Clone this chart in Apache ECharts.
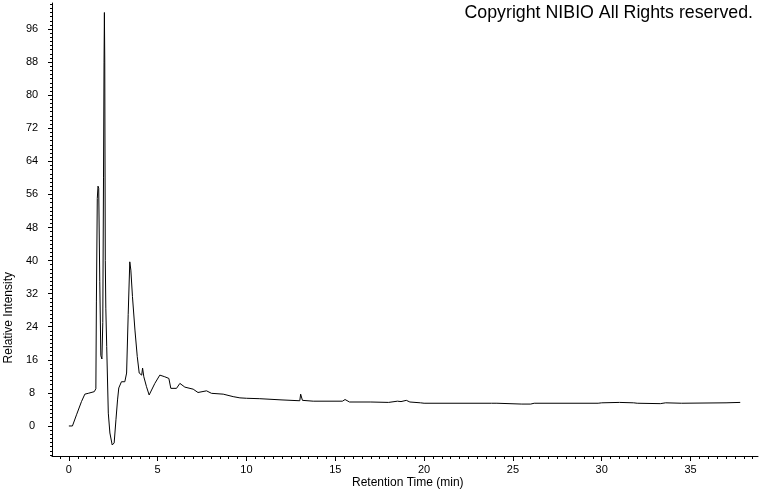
<!DOCTYPE html>
<html>
<head>
<meta charset="utf-8">
<script src="https://cdn.jsdelivr.net/npm/echarts@6/dist/echarts.min.js"></script>
<style>html,body{margin:0;padding:0;background:#fff}#c{width:760px;height:492px}</style>
</head>
<body>
<div id="c"></div>
<script>
// Retention time (min)
const times = [0, 0.2, 0.43, 0.71, 0.9, 1.09, 1.43, 1.52, 1.55, 1.6, 1.64, 1.68, 1.74, 1.8, 1.86, 1.91, 1.95, 1.98, 2.0, 2.02, 2.05, 2.08, 2.13, 2.22, 2.31, 2.44, 2.55, 2.65, 2.74, 2.81, 2.96, 3.15, 3.25, 3.34, 3.43, 3.49, 3.58, 3.72, 3.85, 3.96, 4.1, 4.15, 4.22, 4.37, 4.52, 4.84, 5.12, 5.4, 5.63, 5.74, 6.06, 6.25, 6.53, 7.0, 7.27, 7.75, 8.03, 8.69, 9.25, 9.63, 10.0, 10.75, 12.0, 13.0, 13.05, 13.15, 13.76, 15.4, 15.55, 15.8, 17.0, 18.0, 18.5, 18.7, 19.0, 19.2, 19.8, 20.0, 23.8, 23.9, 24.1, 25.5, 26.0, 26.2, 29.8, 30.0, 31.0, 31.8, 32.0, 33.3, 33.6, 34.5, 37.0, 37.8];
// Relative intensity
const intensity = [0, 0, 2.7, 5.9, 7.7, 7.9, 8.3, 9, 30, 55, 58, 57.5, 35, 17, 16.2, 25, 60, 88, 100, 88.5, 40, 28.5, 19.2, 3.1, -1.7, -4.6, -4.1, 1.5, 6.3, 9.2, 10.7, 10.7, 12.8, 27, 39.7, 37.7, 31.3, 23.2, 16.8, 12.8, 12.3, 14, 11.9, 9.5, 7.5, 10.3, 12.3, 11.9, 11.5, 9.1, 9.1, 10.3, 9.4, 8.9, 8.1, 8.5, 7.9, 7.7, 7.1, 6.8, 6.7, 6.6, 6.3, 6.1, 7.7, 6.2, 6.0, 6.0, 6.4, 5.8, 5.8, 5.7, 6.0, 5.9, 6.2, 5.8, 5.6, 5.5, 5.5, 5.3, 5.5, 5.3, 5.3, 5.5, 5.5, 5.6, 5.7, 5.6, 5.5, 5.4, 5.6, 5.5, 5.6, 5.7];

const xMajor = [0, 5, 10, 15, 20, 25, 30, 35];
const xMinor = [-0.5, 0.5, 1, 1.5, 2, 2.5, 3, 3.5, 4, 4.5, 5.5, 6, 6.5, 7, 7.5, 8, 8.5, 9, 9.5, 10.5, 11, 11.5, 12, 12.5, 13, 13.5, 14, 14.5, 15.5, 16, 16.5, 17, 17.5, 18, 18.5, 19, 19.5, 20.5, 21, 21.5, 22, 22.5, 23, 23.5, 24, 24.5, 25.5, 26, 26.5, 27, 27.5, 28, 28.5, 29, 29.5, 30.5, 31, 31.5, 32, 32.5, 33, 33.5, 34, 34.5, 35.5, 36, 36.5, 37, 37.5, 38, 38.5];
const yMajor = [0, 8, 16, 24, 32, 40, 48, 56, 64, 72, 80, 88, 96];
const yMinor = [-7, -6, -5, -4, -3, -2, -1, 1, 2, 3, 4, 5, 6, 7, 9, 10, 11, 12, 13, 14, 15, 17, 18, 19, 20, 21, 22, 23, 25, 26, 27, 28, 29, 30, 31, 33, 34, 35, 36, 37, 38, 39, 41, 42, 43, 44, 45, 46, 47, 49, 50, 51, 52, 53, 54, 55, 57, 58, 59, 60, 61, 62, 63, 65, 66, 67, 68, 69, 70, 71, 73, 74, 75, 76, 77, 78, 79, 81, 82, 83, 84, 85, 86, 87, 89, 90, 91, 92, 93, 94, 95, 97, 98, 99, 100, 101, 102];

const xTitle = 'Retention Time (min)';
const yTitle = 'Relative Intensity';
const copyright = 'Copyright NIBIO All Rights reserved.';

const XMIN = -0.95, XMAX = 38.8, YMIN = -7.26, YMAX = 102.3;
const font = 'Liberation Sans';

const chart = echarts.init(document.getElementById('c'), null, {renderer: 'canvas'});
chart.setOption({
  animation: false,
  backgroundColor: '#ffffff',
  grid: {left: 52, right: 2, top: 3, bottom: 36, containLabel: false},
  xAxis: [
    {
      type: 'value', min: XMIN, max: XMAX, position: 'bottom',
      axisLine: {show: true, onZero: false, lineStyle: {color: '#000', width: 1}},
      axisTick: {show: true, customValues: xMajor, length: 5, lineStyle: {color: '#000'}},
      axisLabel: {show: true, customValues: xMajor, margin: 8, color: '#000', fontFamily: font, fontSize: 11},
      splitLine: {show: false}
    },
    {
      type: 'value', min: XMIN, max: XMAX, position: 'bottom', offset: 0,
      axisLine: {show: false, onZero: false},
      axisTick: {show: true, customValues: xMinor, length: 3, lineStyle: {color: '#000'}},
      axisLabel: {show: false},
      splitLine: {show: false}
    }
  ],
  yAxis: [
    {
      type: 'value', min: YMIN, max: YMAX, position: 'left',
      axisLine: {show: true, onZero: false, lineStyle: {color: '#000', width: 1}},
      axisTick: {show: true, customValues: yMajor, length: 4, lineStyle: {color: '#000'}},
      axisLabel: {show: true, customValues: yMajor, margin: 20, align: 'center', color: '#000', fontFamily: font, fontSize: 11},
      splitLine: {show: false}
    },
    {
      type: 'value', min: YMIN, max: YMAX, position: 'left', offset: 0,
      axisLine: {show: false, onZero: false},
      axisTick: {show: true, customValues: yMinor, length: 2, lineStyle: {color: '#000'}},
      axisLabel: {show: false},
      splitLine: {show: false}
    }
  ],
  series: [{
    type: 'line',
    xAxisIndex: 0, yAxisIndex: 0,
    data: times.map((t, i) => [t, intensity[i]]),
    showSymbol: false, symbol: 'none', smooth: false,
    lineStyle: {color: '#000', width: 1},
    silent: true
  }],
  graphic: [
    {type: 'text', right: 7, top: 4, style: {text: copyright, fill: '#000', font: '17.8px "Liberation Sans"'}},
    {type: 'text', left: 352, top: 477, style: {text: xTitle, fill: '#000', font: '12px "Liberation Sans"'}},
    {type: 'text', left: 3, top: 272, rotation: Math.PI / 2, style: {text: yTitle, fill: '#000', font: '12px "Liberation Sans"'}}
  ]
});
</script>
</body>
</html>
